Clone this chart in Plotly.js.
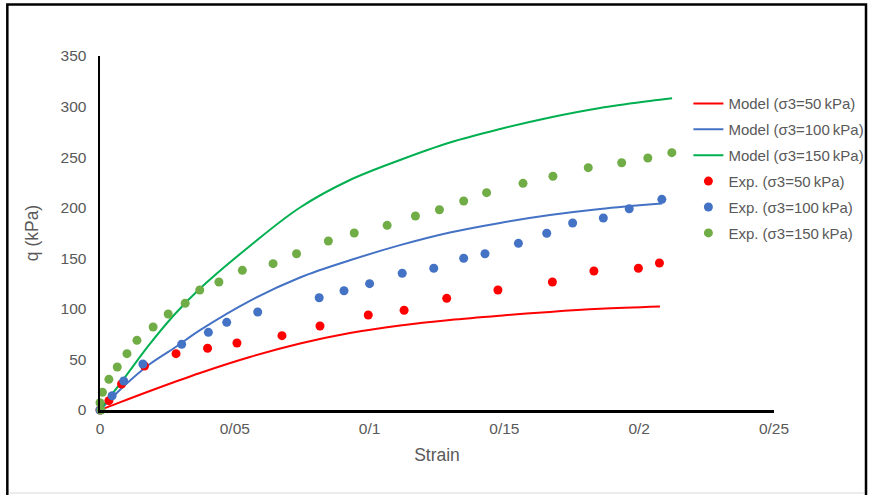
<!DOCTYPE html>
<html>
<head>
<meta charset="utf-8">
<script src="https://cdn.plot.ly/plotly-3.0.1.min.js"></script>
<style>
html,body{margin:0;padding:0;background:#fff;}
#chart{width:873px;height:495px;}
</style>
</head>
<body>
<div id="chart"></div>
<script>
// Model curves
const modelStrain50 = [0, 0.0037, 0.0185, 0.0371, 0.0556, 0.0742, 0.0927, 0.1113, 0.1298, 0.1484, 0.1669, 0.1855, 0.2077];
const modelQ50      = [0, 3.8, 18.8, 36.6, 52.4, 65.7, 76.1, 83.5, 89.0, 93.3, 97.0, 100.0, 102.3];

const modelStrain100 = [0, 0.0093, 0.0185, 0.0278, 0.0371, 0.0556, 0.0742, 0.0927, 0.1113, 0.1298, 0.1484, 0.1669, 0.1855, 0.2085];
const modelQ100      = [0, 24.7, 45.5, 61.8, 79.0, 108.0, 131.0, 148.0, 163.0, 175.5, 185.0, 192.7, 198.7, 204.1];

const modelStrain150 = [0, 0.0093, 0.0185, 0.0278, 0.0371, 0.0556, 0.0742, 0.0927, 0.1113, 0.1298, 0.1484, 0.1669, 0.1855, 0.2040, 0.2122];
const modelQ150      = [0, 32.6, 65.3, 94.9, 120.1, 162.2, 200.2, 227.4, 247.2, 264.5, 277.8, 289.2, 298.6, 305.5, 308.2];

// Experimental points
const expStrain50 = [0, 0.0033, 0.0080, 0.0165, 0.0282, 0.0399, 0.0508, 0.0675, 0.0816, 0.0995, 0.1128, 0.1286, 0.1476, 0.1678, 0.1832, 0.1997, 0.2075];
const expQ50      = [0, 9.2, 25.7, 43.5, 55.7, 61.1, 66.2, 73.5, 83.1, 93.9, 98.6, 110.4, 118.6, 126.5, 137.4, 140.1, 145.3];

const expStrain100 = [0, 0.0045, 0.0088, 0.0159, 0.0303, 0.0402, 0.0470, 0.0585, 0.0813, 0.0905, 0.1000, 0.1121, 0.1238, 0.1349, 0.1428, 0.1552, 0.1657, 0.1753, 0.1867, 0.1963, 0.2084];
const expQ100      = [0, 14.1, 28.7, 45.5, 65.0, 76.8, 86.7, 96.9, 111.0, 117.9, 124.9, 135.2, 140.1, 150.0, 154.5, 164.8, 174.8, 184.9, 189.8, 199.0, 208.3];

const expStrain150 = [0.0004, 0, 0.0009, 0.0033, 0.0064, 0.0100, 0.0137, 0.0197, 0.0253, 0.0316, 0.0370, 0.0441, 0.0528, 0.0642, 0.0729, 0.0847, 0.0943, 0.1065, 0.1170, 0.1259, 0.1349, 0.1434, 0.1569, 0.1680, 0.1811, 0.1935, 0.2032, 0.2121];
const expQ150      = [0, 7.2, 17.5, 30.3, 42.5, 55.7, 68.9, 82.1, 94.9, 105.5, 118.6, 126.6, 138.1, 144.7, 154.5, 167.1, 175.0, 182.6, 191.8, 198.0, 206.6, 214.9, 224.1, 231.1, 239.6, 244.5, 249.2, 254.4];

const xTickVals = [0, 0.05, 0.1, 0.15, 0.2, 0.25];
const xTickText = ['0', '0/05', '0/1', '0/15', '0/2', '0/25'];
const yTickVals = [0, 50, 100, 150, 200, 250, 300, 350];

const names = ['Model (σ3=50\u2009kPa)', 'Model (σ3=100\u2009kPa)', 'Model (σ3=150\u2009kPa)',
               'Exp. (σ3=50\u2009kPa)', 'Exp. (σ3=100\u2009kPa)', 'Exp. (σ3=150\u2009kPa)'];

const red = '#ff0000', blue = '#4472c4', green = '#00b050', lgreen = '#70ad47';

const traces = [
  {x: modelStrain50, y: modelQ50, mode: 'lines', line: {color: red, width: 2, shape: 'spline'}, name: names[0], legendgroup: 'g1'},
  {x: modelStrain100, y: modelQ100, mode: 'lines', line: {color: blue, width: 2, shape: 'spline'}, name: names[1], legendgroup: 'g2'},
  {x: modelStrain150, y: modelQ150, mode: 'lines', line: {color: green, width: 2, shape: 'spline'}, name: names[2], legendgroup: 'g3'},
  {x: expStrain50, y: expQ50, mode: 'markers', marker: {color: red, size: 9}, name: names[3], legendgroup: 'g4'},
  {x: expStrain100, y: expQ100, mode: 'markers', marker: {color: blue, size: 9}, name: names[4], legendgroup: 'g5'},
  {x: expStrain150, y: expQ150, mode: 'markers', marker: {color: lgreen, size: 9}, name: names[5], legendgroup: 'g6'}
].map(t => Object.assign({type: 'scatter', cliponaxis: false}, t));

const font = {family: '"Liberation Sans", Arial, sans-serif', color: '#595959'};

const layout = {
  width: 873, height: 495,
  margin: {l: 100, r: 99, t: 56, b: 85, autoexpand: false},
  paper_bgcolor: '#fff', plot_bgcolor: '#fff',
  font: Object.assign({size: 15}, font),
  showlegend: true,
  legend: {
    x: 0.873, xanchor: 'left', y: 0.912, yanchor: 'top',
    bgcolor: 'rgba(0,0,0,0)', borderwidth: 0,
    font: Object.assign({size: 15}, font),
    tracegroupgap: 3.4, traceorder: 'grouped'
  },
  xaxis: {
    range: [0, 0.25], tickvals: xTickVals, ticktext: xTickText,
    showgrid: false, zeroline: false, showline: true, linecolor: '#000', linewidth: 2.5,
    ticks: '', tickfont: Object.assign({size: 15.5}, font), automargin: false,
    ticklabelstandoff: 3,
    title: {text: 'Strain', font: Object.assign({size: 17.5}, font), standoff: 13}
  },
  yaxis: {
    range: [0, 350], tickvals: yTickVals,
    showgrid: false, zeroline: false, showline: true, linecolor: '#000', linewidth: 2.5,
    ticks: '', tickfont: Object.assign({size: 15.5}, font), automargin: false,
    ticklabelstandoff: 8,
    title: {text: 'q (kPa)', font: Object.assign({size: 17.5}, font), standoff: 18}
  },
  shapes: [{
    type: 'rect', xref: 'paper', yref: 'paper', layer: 'below',
    x0: -0.1375, x1: 1.1365, y0: -0.26, y1: 1.1455,
    line: {color: '#000', width: 2.5}
  }, {
    type: 'line', xref: 'paper', yref: 'paper', layer: 'below',
    x0: -0.134, x1: 1.133, y0: -0.2345, y1: -0.2345,
    line: {color: '#d9d9d9', width: 1}
  }]
};

Plotly.newPlot('chart', traces, layout, {displayModeBar: false, staticPlot: true});
</script>
</body>
</html>
